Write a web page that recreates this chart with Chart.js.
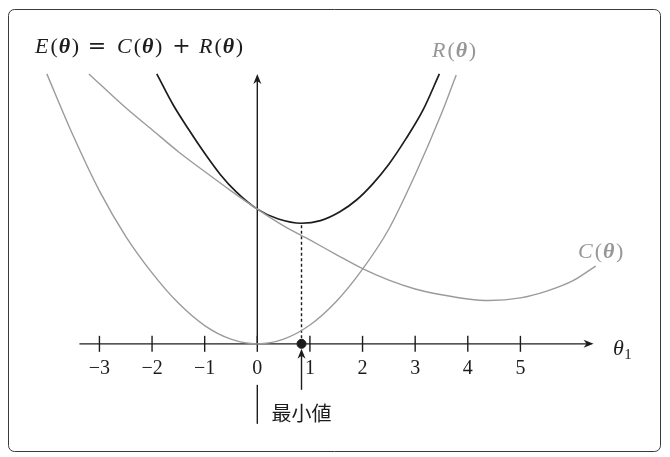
<!DOCTYPE html>
<html>
<head>
<meta charset="UTF-8">
<title>E(θ) = C(θ) + R(θ)</title>
<script src="https://cdn.jsdelivr.net/npm/chart.js@4.4.1/dist/chart.umd.min.js"></script>
<style>
  body { margin: 0; background: #fff; }
  #wrap { width: 670px; height: 457px; }
</style>
</head>
<body>
<div id="wrap"><canvas id="chart" width="670" height="457"></canvas></div>
<script>
// values (theta on the horizontal axis, height in the same units)
const xTicks = [-3, -2, -1, 0, 1, 2, 3, 4, 5];
const xTickLabels = ['\u22123', '\u22122', '\u22121', '0', '1', '2', '3', '4', '5'];

const thetaR = [-4.0, -3.5, -3.0, -2.5, -2.0, -1.5, -1.0, -0.5, 0, 0.5, 1.0, 1.5, 2.0, 2.5, 3.0, 3.5, 3.78];
const valR   = [5.17, 3.99, 2.93, 2.06, 1.36, 0.78, 0.35, 0.09, 0, 0.09, 0.36, 0.81, 1.43, 2.2, 3.24, 4.41, 5.15];

const thetaC = [-3.2, -2.5, -2.0, -1.5, -1.0, -0.5, 0, 0.5, 1.0, 1.5, 2.0, 2.5, 3.0, 3.5, 4.0, 4.4, 5.0, 5.5, 6.0, 6.43];
const valC   = [5.17, 4.52, 4.1, 3.68, 3.3, 2.93, 2.58, 2.26, 1.99, 1.71, 1.44, 1.22, 1.05, 0.94, 0.86, 0.83, 0.88, 1.01, 1.21, 1.49];

const thetaE = [-1.91, -1.6, -1.3, -1.0, -0.7, -0.4, 0, 0.4, 0.84, 1.2, 1.57, 1.89, 2.19, 2.5, 2.82, 3.15, 3.46];
const valE   = [5.17, 4.58, 4.1, 3.65, 3.24, 2.91, 2.58, 2.39, 2.31, 2.36, 2.53, 2.76, 3.06, 3.44, 3.92, 4.48, 5.17];

const axisX = [-3.38, 6.39];   // extent of the θ1 axis
const axisYTop = 5.17;         // top of the vertical axis

const GRAY = '#9b9b9b';
const LABEL_GRAY = '#979797';
const BLACK = '#1c1c1c';
const SERIF = '"Liberation Serif", "DejaVu Serif", serif';
const OPS = '"DejaVu Serif", serif';

const pts = (xs, ys) => xs.map((x, i) => ({ x: x, y: ys[i] }));

// minimum of E
let iMin = 0;
valE.forEach((v, i) => { if (v < valE[iMin]) iMin = i; });
const minTheta = thetaE[iMin];
const minE = valE[iMin];

function arrowHead(ctx, x, y, ang) {
  ctx.save();
  ctx.translate(x, y);
  ctx.rotate(ang);
  ctx.beginPath();
  ctx.moveTo(0, 0);
  ctx.lineTo(-10, -4);
  ctx.lineTo(-7, 0);
  ctx.lineTo(-10, 4);
  ctx.closePath();
  ctx.fill();
  ctx.restore();
}

// draw text made of runs in different fonts: [text, font, dy, gapAfter]
function runs(ctx, list, x, y, color) {
  ctx.save();
  ctx.fillStyle = color;
  ctx.textAlign = 'left';
  ctx.textBaseline = 'alphabetic';
  let cx = x;
  list.forEach(r => {
    ctx.font = r[1];
    ctx.fillText(r[0], cx, y + (r[2] || 0));
    cx += ctx.measureText(r[0]).width + (r[3] || 0);
  });
  ctx.restore();
  return cx - x;
}

function fn(name, size) {
  const it = 'italic ' + size + 'px ' + SERIF;
  const up = size + 'px ' + SERIF;
  const bt = 'italic bold ' + size + 'px ' + SERIF;
  return [[name, it, 0, 2], ['(', up, 0, 1], ['\u03b8', bt, 0, 1.5], [')', up]];
}

function centered(ctx, s, font, cx, y, color) {
  ctx.save();
  ctx.font = font;
  ctx.fillStyle = color;
  ctx.textAlign = 'center';
  ctx.textBaseline = 'alphabetic';
  ctx.fillText(s, cx, y);
  ctx.restore();
}

const diagram = {
  id: 'diagram',
  beforeDatasetsDraw(chart) {
    const ctx = chart.ctx;
    const xs = chart.scales.x, ys = chart.scales.y;
    ctx.save();
    // frame
    ctx.strokeStyle = '#3a3a3a';
    ctx.lineWidth = 1;
    ctx.beginPath();
    ctx.roundRect(8.5, 9.5, 652, 442, 6);
    ctx.stroke();

    const y0 = ys.getPixelForValue(0);
    const x0 = xs.getPixelForValue(0);
    ctx.strokeStyle = BLACK;
    ctx.fillStyle = BLACK;
    ctx.lineWidth = 1.4;
    // θ1 axis
    const xa = xs.getPixelForValue(axisX[0]), xb = xs.getPixelForValue(axisX[1]);
    ctx.beginPath();
    ctx.moveTo(xa, y0);
    ctx.lineTo(xb - 4, y0);
    ctx.stroke();
    arrowHead(ctx, xb, y0, 0);
    // vertical axis
    const yt = ys.getPixelForValue(axisYTop);
    ctx.beginPath();
    ctx.moveTo(x0, y0);
    ctx.lineTo(x0, yt + 4);
    ctx.stroke();
    arrowHead(ctx, x0, yt, -Math.PI / 2);
    // ticks and labels
    ctx.font = '20px ' + SERIF;
    ctx.textAlign = 'center';
    ctx.textBaseline = 'alphabetic';
    xTicks.forEach((v, i) => {
      const px = xs.getPixelForValue(v);
      ctx.beginPath();
      ctx.moveTo(px, y0 - 8);
      ctx.lineTo(px, y0 + 8);
      ctx.stroke();
      ctx.fillText(xTickLabels[i], px, y0 + 30);
    });
    ctx.restore();
  },
  afterDraw(chart) {
    const ctx = chart.ctx;
    const xs = chart.scales.x, ys = chart.scales.y;
    const y0 = ys.getPixelForValue(0);
    const x0 = xs.getPixelForValue(0);
    const xm = xs.getPixelForValue(minTheta);
    ctx.save();
    ctx.strokeStyle = BLACK;
    ctx.fillStyle = BLACK;
    ctx.lineWidth = 1.4;
    // pointer line under 0
    ctx.beginPath();
    ctx.moveTo(x0, y0 + 41);
    ctx.lineTo(x0, y0 + 80);
    ctx.stroke();
    // arrow to the minimum
    ctx.beginPath();
    ctx.moveTo(xm, y0 + 46);
    ctx.lineTo(xm, y0 + 9);
    ctx.stroke();
    arrowHead(ctx, xm, y0 + 5, -Math.PI / 2);
    ctx.font = '20px "Noto Sans CJK JP"';
    ctx.textAlign = 'center';
    ctx.textBaseline = 'middle';
    ctx.fillText('最小値', xm, y0 + 70);

    // title E(θ) = C(θ) + R(θ)
    runs(ctx, fn('E', 22), 35, 53, BLACK);
    centered(ctx, '=', '22px ' + OPS, 97, 53, BLACK);
    runs(ctx, fn('C', 22), 117, 53, BLACK);
    centered(ctx, '+', '22px ' + OPS, 181.5, 53, BLACK);
    runs(ctx, fn('R', 22), 199, 53, BLACK);
    // curve labels
    runs(ctx, fn('R', 22), 432, 57, LABEL_GRAY);
    runs(ctx, fn('C', 22), 578, 258, LABEL_GRAY);
    runs(ctx, [['\u03b8', 'italic 22px ' + SERIF, 0, 0.5], ['1', '15px ' + SERIF, 4]], 613, 355, BLACK);
    ctx.restore();
  }
};

new Chart(document.getElementById('chart'), {
  type: 'scatter',
  data: {
    datasets: [
      { label: 'R', data: pts(thetaR, valR), borderColor: GRAY, borderWidth: 1.4 },
      { label: 'C', data: pts(thetaC, valC), borderColor: GRAY, borderWidth: 1.4 },
      { label: 'E', data: pts(thetaE, valE), borderColor: BLACK, borderWidth: 1.7 },
      { label: 'min', data: [{ x: minTheta, y: 0 }, { x: minTheta, y: minE }],
        borderColor: BLACK, borderWidth: 1.4, borderDash: [3, 2.5], cubicInterpolationMode: 'default', tension: 0 },
      { label: 'dot', data: [{ x: minTheta, y: 0 }], showLine: false,
        pointRadius: 4.5, backgroundColor: BLACK, borderColor: BLACK }
    ]
  },
  options: {
    responsive: false,
    animation: false,
    clip: false,
    layout: { padding: 0 },
    elements: {
      line: { cubicInterpolationMode: 'monotone', fill: false },
      point: { radius: 0, hoverRadius: 0 }
    },
    datasets: { scatter: { showLine: true } },
    plugins: { legend: { display: false }, tooltip: { enabled: false } },
    events: [],
    scales: {
      x: { type: 'linear', display: false, min: -4.785, max: 7.738 },
      y: { type: 'linear', display: false, min: -2.062, max: 6.48 }
    }
  },
  plugins: [diagram]
});
</script>
</body>
</html>
